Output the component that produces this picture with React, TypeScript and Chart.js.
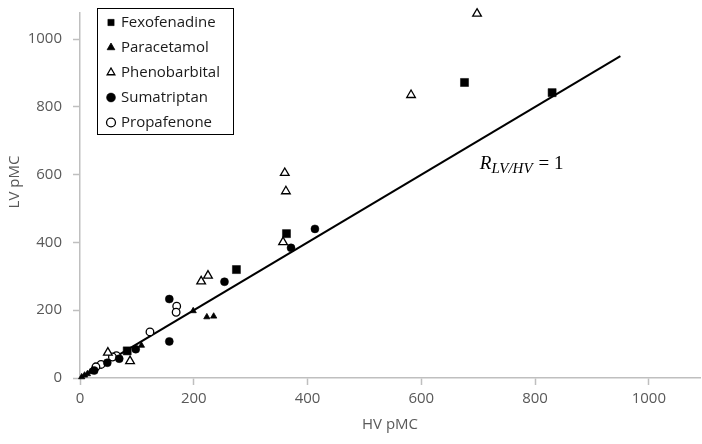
import React, { useEffect, useRef } from 'react';
import { Chart, registerables } from 'chart.js';

Chart.register(...registerables);

// ---- data ----
const seriesNames = ['Fexofenadine', 'Paracetamol', 'Phenobarbital', 'Sumatriptan', 'Propafenone'];

const fexofenadineX = [830, 676, 363, 275, 83];
const fexofenadineY = [842, 872, 426, 320, 80];

const paracetamolX = [235, 223, 199, 108, 22, 18, 13, 8, 3];
const paracetamolY = [182, 180, 198, 96, 24, 18, 12, 8, 3];

const phenobarbitalX = [698, 582, 360, 362, 357, 225, 213, 88, 49];
const phenobarbitalY = [1075, 835, 605, 551, 401, 302, 285, 50, 75];

const sumatriptanX = [413, 371, 254, 157, 157, 98, 69, 48, 25];
const sumatriptanY = [440, 384, 284, 233, 108, 85, 57, 45, 22];

const propafenoneX = [170, 169, 123, 64, 57, 37, 28];
const propafenoneY = [212, 194, 136, 66, 62, 40, 33];

const identityX = [0, 950];
const identityY = [0, 950];

const xAxisTitle = 'HV pMC';
const yAxisTitle = 'LV pMC';
const tickStep = 200;
const xMax = 1090;
const yMax = 1077;

const annotationMain = 'R';
const annotationSub = 'LV/HV';
const annotationRest = '= 1';
const annotationAnchor = { x: 703, y: 616 };

const toPoints = (xs: number[], ys: number[]) => xs.map((x, i) => ({ x, y: ys[i] }));

const FONT = '"Open Sans", "Noto Sans", sans-serif';
const AXIS_GRAY = '#bfbfbf';
const TEXT_GRAY = '#595959';

const decorPlugin = {
  id: 'decor',
  afterLayout(chart: any) {
    const lg = chart.legend;
    if (lg) {
      lg.left = 98.5;
      lg.top = 5;
    }
  },
  afterDraw(chart: any) {
    const ctx = chart.ctx as CanvasRenderingContext2D;
    // legend frame
    ctx.save();
    ctx.strokeStyle = '#000';
    ctx.lineWidth = 1;
    ctx.strokeRect(97.5, 8.5, 136, 126);
    ctx.restore();

    // y axis title
    ctx.save();
    ctx.translate(15, 182);
    ctx.rotate(-Math.PI / 2);
    ctx.font = `15px ${FONT}`;
    ctx.fillStyle = TEXT_GRAY;
    ctx.textAlign = 'center';
    ctx.textBaseline = 'middle';
    ctx.fillText(yAxisTitle, 0, 0);
    ctx.restore();

    // annotation R_{LV/HV} = 1
    const xs = chart.scales.x;
    const ys = chart.scales.y;
    let px = xs.getPixelForValue(annotationAnchor.x);
    const py = ys.getPixelForValue(annotationAnchor.y);
    ctx.save();
    ctx.fillStyle = '#000';
    ctx.textAlign = 'left';
    ctx.textBaseline = 'alphabetic';
    ctx.font = 'italic 19px "Liberation Serif", "DejaVu Serif", serif';
    ctx.fillText(annotationMain, px, py);
    px += ctx.measureText(annotationMain).width;
    ctx.font = 'italic 15px "Liberation Serif", "DejaVu Serif", serif';
    ctx.fillText(annotationSub, px, py + 4);
    px += ctx.measureText(annotationSub).width + 6;
    ctx.font = '19px "Liberation Serif", "DejaVu Serif", serif';
    ctx.fillText(annotationRest, px, py);
    ctx.restore();
  },
};

export default function App() {
  const canvasRef = useRef<HTMLCanvasElement | null>(null);

  useEffect(() => {
    if (!canvasRef.current) return;
    const common = { borderColor: '#000', showLine: false, order: 0, clip: false };
    const chart = new Chart(canvasRef.current, {
      type: 'scatter',
      data: {
        datasets: [
          { ...common, label: seriesNames[0], data: toPoints(fexofenadineX, fexofenadineY), pointStyle: 'rect', pointRadius: 5.7, backgroundColor: '#000', borderWidth: 0.5 },
          { ...common, label: seriesNames[1], data: toPoints(paracetamolX, paracetamolY), pointStyle: 'triangle', pointRadius: 3.6, backgroundColor: '#000', borderWidth: 0.8 },
          { ...common, label: seriesNames[2], data: toPoints(phenobarbitalX, phenobarbitalY), pointStyle: 'triangle', pointRadius: 5, backgroundColor: '#fff', borderWidth: 1.3 },
          { ...common, label: seriesNames[3], data: toPoints(sumatriptanX, sumatriptanY), pointStyle: 'circle', pointRadius: 4, backgroundColor: '#000', borderWidth: 0.5 },
          { ...common, label: seriesNames[4], data: toPoints(propafenoneX, propafenoneY), pointStyle: 'circle', pointRadius: 3.8, backgroundColor: '#fff', borderWidth: 1.3 },
          {
            type: 'line', label: 'identity', data: toPoints(identityX, identityY), borderColor: '#000', borderWidth: 2,
            pointRadius: 0, showLine: true, fill: false, order: 1,
          } as any,
        ],
      },
      options: {
        responsive: false,
        animation: false,
        devicePixelRatio: 1,
        layout: { autoPadding: false, padding: { left: 0, right: 2, top: 13, bottom: 0 } },
        plugins: {
          tooltip: { enabled: false },
          legend: {
            position: 'chartArea',
            align: 'start',
            labels: {
              usePointStyle: true, boxWidth: 5, boxHeight: 6.3, padding: 10, color: '#1a1a1a',
              font: { family: FONT, size: 15 },
              filter: (item: any) => item.text !== 'identity',
            },
          },
        },
        scales: {
          x: {
            type: 'linear', min: 0, max: xMax,
            afterFit: (s: any) => { s.height = 66; s.paddingLeft = 0; s.paddingRight = 0; },
            ticks: { stepSize: tickStep, includeBounds: false, color: TEXT_GRAY, font: { family: FONT, size: 15 }, padding: 5, maxRotation: 0, callback: (v: any) => String(v) },
            grid: { drawOnChartArea: false, tickLength: 7, tickColor: AXIS_GRAY, tickWidth: 1.5 },
            border: { color: AXIS_GRAY, width: 1.5 },
            title: { display: true, text: xAxisTitle, color: TEXT_GRAY, font: { family: FONT, size: 15 }, padding: { top: 0, bottom: 10 } },
          },
          y: {
            type: 'linear', min: 0, max: yMax,
            afterFit: (s: any) => { s.width = 80; s.paddingTop = 0; s.paddingBottom = 0; },
            ticks: { stepSize: tickStep, includeBounds: false, color: TEXT_GRAY, font: { family: FONT, size: 15 }, padding: 11, callback: (v: any) => String(v) },
            grid: { drawOnChartArea: false, tickLength: 7, tickColor: AXIS_GRAY, tickWidth: 1.5 },
            border: { color: AXIS_GRAY, width: 1.5 },
          },
        },
      } as any,
      plugins: [decorPlugin],
    });
    return () => chart.destroy();
  }, []);

  return (
    <div style={{ position: 'absolute', left: 0, top: 0, width: 702, height: 444, background: '#fff' }}>
      <canvas ref={canvasRef} width={702} height={444} />
    </div>
  );
}
